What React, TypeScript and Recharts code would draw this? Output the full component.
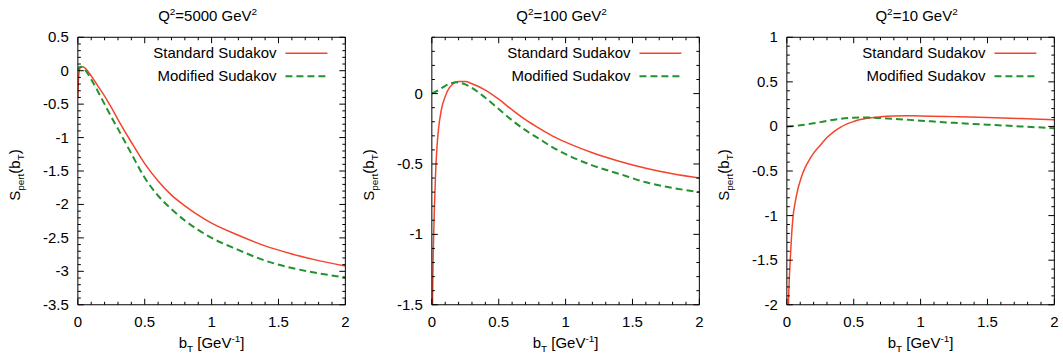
import React from 'react';
import { LineChart, Line, XAxis, YAxis, Customized } from 'recharts';

// b_T grid and S_pert values, one pair per curve

// Q^2 = 5000 GeV^2
const b5000Std = [0, 0.005, 0.01, 0.02, 0.035, 0.05, 0.1, 0.15, 0.2, 0.25, 0.3, 0.4, 0.5, 0.6, 0.7, 0.8, 0.9, 1.0, 1.2, 1.4, 1.6, 1.8, 2.0];
const s5000Std = [-0.4, -0.12, -0.01, 0.05, 0.06, 0.045, -0.08, -0.23, -0.38, -0.55, -0.73, -1.07, -1.39, -1.65, -1.86, -2.02, -2.16, -2.28, -2.46, -2.62, -2.74, -2.84, -2.92];
const b5000Mod = [0, 0.005, 0.01, 0.025, 0.05, 0.1, 0.15, 0.2, 0.25, 0.3, 0.4, 0.5, 0.6, 0.7, 0.8, 0.9, 1.0, 1.2, 1.4, 1.6, 1.8, 2.0];
const s5000Mod = [0, 0.03, 0.05, 0.06, 0.02, -0.13, -0.31, -0.5, -0.69, -0.87, -1.24, -1.6, -1.87, -2.07, -2.24, -2.38, -2.5, -2.68, -2.84, -2.95, -3.03, -3.09];

// Q^2 = 100 GeV^2
const b100Std = [0.003, 0.006, 0.01, 0.015, 0.02, 0.03, 0.04, 0.05, 0.07, 0.1, 0.13, 0.16, 0.2, 0.25, 0.3, 0.4, 0.5, 0.6, 0.7, 0.8, 0.9, 1.0, 1.2, 1.4, 1.6, 1.8, 2.0];
const s100Std = [-1.75, -1.4, -1.15, -0.95, -0.78, -0.52, -0.36, -0.25, -0.12, -0.02, 0.04, 0.07, 0.085, 0.085, 0.07, 0.025, -0.04, -0.115, -0.185, -0.245, -0.3, -0.345, -0.42, -0.48, -0.53, -0.57, -0.6];
const b100Mod = [0, 0.05, 0.1, 0.15, 0.18, 0.2, 0.25, 0.3, 0.4, 0.5, 0.6, 0.7, 0.8, 0.9, 1.0, 1.2, 1.4, 1.6, 1.8, 2.0];
const s100Mod = [0, 0.025, 0.055, 0.075, 0.08, 0.078, 0.065, 0.04, -0.03, -0.11, -0.19, -0.26, -0.32, -0.38, -0.43, -0.51, -0.57, -0.63, -0.67, -0.7];

// Q^2 = 10 GeV^2
const b10Std = [0.01, 0.012, 0.02, 0.025, 0.035, 0.047, 0.06, 0.07, 0.08, 0.09, 0.1, 0.12, 0.14, 0.17, 0.2, 0.25, 0.3, 0.35, 0.4, 0.45, 0.5, 0.55, 0.6, 0.7, 0.8, 0.9, 1.0, 1.25, 1.5, 1.75, 2.0];
const s10Std = [-2.15, -2.0, -1.65, -1.5, -1.23, -1.0, -0.87, -0.79, -0.72, -0.66, -0.61, -0.52, -0.45, -0.37, -0.3, -0.21, -0.125, -0.06, -0.01, 0.028, 0.055, 0.077, 0.092, 0.108, 0.116, 0.119, 0.118, 0.11, 0.1, 0.088, 0.075];
const b10Mod = [0, 0.1, 0.2, 0.3, 0.4, 0.5, 0.6, 0.75, 1.0, 1.25, 1.5, 1.75, 2.0];
const s10Mod = [0, 0.012, 0.035, 0.062, 0.085, 0.097, 0.1, 0.09, 0.065, 0.04, 0.02, 0.0, -0.02];

const q2Labels = ['5000', '100', '10'];
const yDomains: [number, number][] = [[-3.5, 0.5], [-1.5, 0.4], [-2, 1]];
const legendNames = ['Standard Sudakov', 'Modified Sudakov'];

const RED = '#f4442c';
const GREEN = '#22922f';
const FONT = '"Liberation Sans", Arial, sans-serif';

const W = 355;
const H = 358;
const AX = 10; // room taken by each axis
const PLOT = { left: 78, top: 37, width: 268, height: 268 };

// minor ticks every 0.1, labelled ticks every 0.5
const steps = (from: number, to: number) => {
  const out: number[] = [];
  for (let i = Math.round(from * 10); i <= Math.round(to * 10); i++) out.push(i / 10);
  return out;
};
const isMajor = (v: number) => Math.abs(v * 2 - Math.round(v * 2)) < 1e-6;
const fmt = (v: number) => String(Math.round(v * 10) / 10);

const pairs = (bs: number[], ss: number[]) => bs.map((b, i) => ({ b, s: ss[i] }));

const BottomTick = (p: any) => {
  const v = p.payload.value;
  const len = isMajor(v) ? 6 : 3;
  return (
    <g>
      <line x1={p.x} x2={p.x} y1={p.y} y2={p.y - len} stroke="#000" />
      {isMajor(v) && (
        <text x={p.x} y={p.y + 22} textAnchor="middle" fontSize={15} fontFamily={FONT} fill="#000">
          {fmt(v)}
        </text>
      )}
    </g>
  );
};

const TopTick = (p: any) => {
  const len = isMajor(p.payload.value) ? 6 : 3;
  return <line x1={p.x} x2={p.x} y1={p.y} y2={p.y + len} stroke="#000" />;
};

const LeftTick = (p: any) => {
  const v = p.payload.value;
  const len = isMajor(v) ? 6 : 3;
  return (
    <g>
      <line x1={p.x} x2={p.x + len} y1={p.y} y2={p.y} stroke="#000" />
      {isMajor(v) && (
        <text x={p.x - 9} y={p.y + 5} textAnchor="end" fontSize={15} fontFamily={FONT} fill="#000">
          {fmt(v)}
        </text>
      )}
    </g>
  );
};

const RightTick = (p: any) => {
  const len = isMajor(p.payload.value) ? 6 : 3;
  return <line x1={p.x} x2={p.x - len} y1={p.y} y2={p.y} stroke="#000" />;
};

function Decorations({ q2 }: { q2: string }) {
  const cx = PLOT.left + PLOT.width / 2;
  const cy = PLOT.top + PLOT.height / 2;
  const right = PLOT.left + PLOT.width;
  return (
    <g fontFamily={FONT} fill="#000">
      <text x={cx - 4} y={21} textAnchor="middle" fontSize={15}>
        Q<tspan dy={-6} fontSize={10}>2</tspan>
        <tspan dy={6}>={q2} GeV</tspan>
        <tspan dy={-6} fontSize={10}>2</tspan>
      </text>
      <text x={cx} y={348} textAnchor="middle" fontSize={15}>
        b<tspan dy={4} fontSize={10}>T</tspan>
        <tspan dy={-4}> [GeV</tspan>
        <tspan dy={-6} fontSize={10}>-1</tspan>
        <tspan dy={6}>]</tspan>
      </text>
      <text x={20} y={cy + 4} textAnchor="middle" fontSize={15} transform={`rotate(-90, 20, ${cy + 4})`}>
        S<tspan dy={4} fontSize={10}>pert</tspan>
        <tspan dy={-4}>(b</tspan>
        <tspan dy={4} fontSize={10}>T</tspan>
        <tspan dy={-4}>)</tspan>
      </text>
      <text x={right - 69} y={58} textAnchor="end" fontSize={15}>{legendNames[0]}</text>
      <line x1={right - 60} x2={right - 18} y1={53} y2={53} stroke={RED} strokeWidth={1.5} />
      <text x={right - 69} y={81} textAnchor="end" fontSize={15}>{legendNames[1]}</text>
      <line x1={right - 60} x2={right - 18} y1={76} y2={76} stroke={GREEN} strokeWidth={2} strokeDasharray="7 4" />
    </g>
  );
}

function Panel({ idx, std, mod }: { idx: number; std: { b: number; s: number }[]; mod: { b: number; s: number }[] }) {
  const dom = yDomains[idx];
  const xt = steps(0, 2);
  const yt = steps(dom[0], dom[1]);
  const margin = {
    top: PLOT.top - AX,
    left: PLOT.left - AX,
    right: W - PLOT.left - PLOT.width - AX,
    bottom: H - PLOT.top - PLOT.height - AX,
  };
  return (
    <LineChart width={W} height={H} margin={margin}>
      <XAxis xAxisId="b" type="number" dataKey="b" domain={[0, 2]} ticks={xt} interval={0}
        tickSize={0} tickMargin={0} height={AX} tick={BottomTick} allowDataOverflow
        axisLine={{ stroke: '#000' }} />
      <XAxis xAxisId="t" orientation="top" type="number" dataKey="b" domain={[0, 2]} ticks={xt} interval={0}
        tickSize={0} tickMargin={0} height={AX} tick={TopTick} allowDataOverflow
        axisLine={{ stroke: '#000' }} />
      <YAxis yAxisId="l" type="number" dataKey="s" domain={dom} ticks={yt} interval={0}
        tickSize={0} tickMargin={0} width={AX} tick={LeftTick} allowDataOverflow
        axisLine={{ stroke: '#000' }} />
      <YAxis yAxisId="r" orientation="right" type="number" dataKey="s" domain={dom} ticks={yt} interval={0}
        tickSize={0} tickMargin={0} width={AX} tick={RightTick} allowDataOverflow
        axisLine={{ stroke: '#000' }} />
      <Line xAxisId="b" yAxisId="l" data={std} dataKey="s" type="monotone" stroke={RED}
        strokeWidth={1.5} dot={false} isAnimationActive={false} />
      <Line xAxisId="b" yAxisId="l" data={mod} dataKey="s" type="monotone" stroke={GREEN}
        strokeWidth={2} strokeDasharray="7 4" dot={false} isAnimationActive={false} />
      <Customized component={<Decorations q2={q2Labels[idx]} />} />
    </LineChart>
  );
}

export default function App() {
  return (
    <div style={{ position: 'absolute', left: 0, top: 0, width: 1063, height: 358, background: '#fff', display: 'flex' }}>
      <Panel idx={0} std={pairs(b5000Std, s5000Std)} mod={pairs(b5000Mod, s5000Mod)} />
      <Panel idx={1} std={pairs(b100Std, s100Std)} mod={pairs(b100Mod, s100Mod)} />
      <Panel idx={2} std={pairs(b10Std, s10Std)} mod={pairs(b10Mod, s10Mod)} />
    </div>
  );
}
